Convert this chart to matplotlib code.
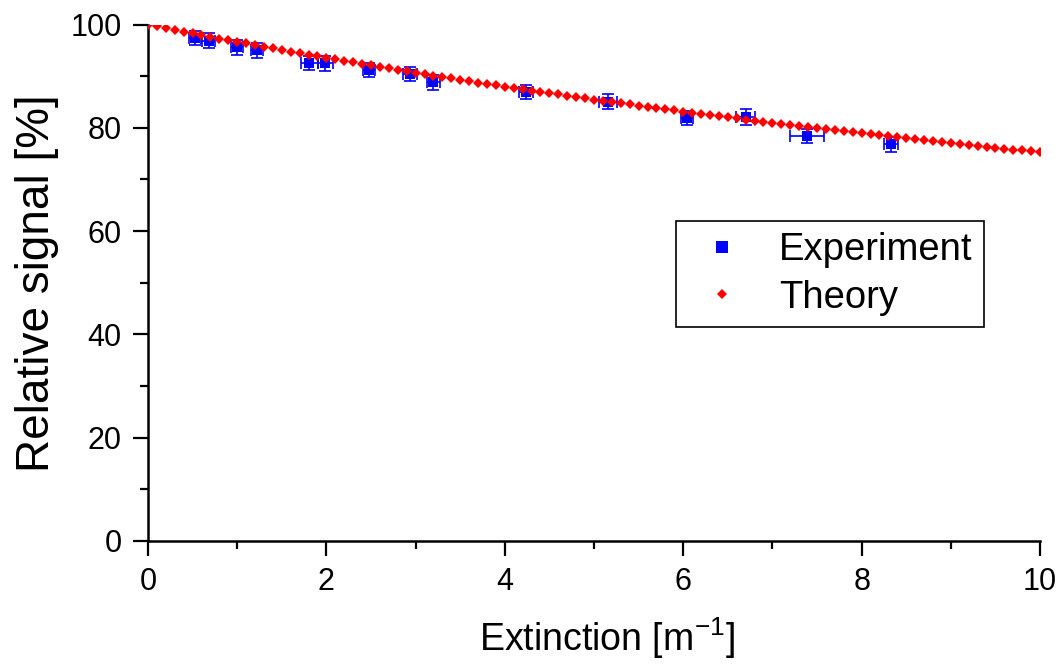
# Relative signal vs extinction: measured points with error bars and theory curve.

import matplotlib
matplotlib.use('Agg')
import matplotlib.pyplot as plt
import numpy as np

plt.rcParams['font.family'] = ['Liberation Sans', 'DejaVu Sans']
plt.rcParams['mathtext.default'] = 'regular'

# experiment
exp_x = [0.53, 0.68, 1.00, 1.22, 1.81, 1.99, 2.48, 2.94, 3.20,
         4.24, 5.16, 6.04, 6.70, 7.39, 8.33]
exp_y = [97.4, 96.9, 95.6, 95.0, 92.6, 92.5, 91.2, 90.4, 88.8,
         87.0, 85.1, 81.9, 82.1, 78.4, 76.8]
exp_xerr = [0.07, 0.07, 0.07, 0.07, 0.10, 0.08, 0.07, 0.08, 0.07,
            0.08, 0.10, 0.07, 0.11, 0.19, 0.08]
exp_yerr = [1.4, 1.4, 1.4, 1.4, 1.4, 1.4, 1.4, 1.4, 1.4,
            1.4, 1.4, 1.4, 1.5, 1.4, 1.4]

# theory points, every 0.1 m^-1
theory_x = [0.0, 0.1, 0.2, 0.3, 0.4, 0.5, 0.6, 0.7, 0.8, 0.9,
            1.0, 1.1, 1.2, 1.3, 1.4, 1.5, 1.6, 1.7, 1.8, 1.9,
            2.0, 2.1, 2.2, 2.3, 2.4, 2.5, 2.6, 2.7, 2.8, 2.9,
            3.0, 3.1, 3.2, 3.3, 3.4, 3.5, 3.6, 3.7, 3.8, 3.9,
            4.0, 4.1, 4.2, 4.3, 4.4, 4.5, 4.6, 4.7, 4.8, 4.9,
            5.0, 5.1, 5.2, 5.3, 5.4, 5.5, 5.6, 5.7, 5.8, 5.9,
            6.0, 6.1, 6.2, 6.3, 6.4, 6.5, 6.6, 6.7, 6.8, 6.9,
            7.0, 7.1, 7.2, 7.3, 7.4, 7.5, 7.6, 7.7, 7.8, 7.9,
            8.0, 8.1, 8.2, 8.3, 8.4, 8.5, 8.6, 8.7, 8.8, 8.9,
            9.0, 9.1, 9.2, 9.3, 9.4, 9.5, 9.6, 9.7, 9.8, 9.9,
            10.0]
theory_y = [100.00, 99.66, 99.32, 98.98, 98.64, 98.31, 97.98, 97.65, 97.32, 97.00,
            96.68, 96.36, 96.04, 95.72, 95.41, 95.10, 94.79, 94.49, 94.18, 93.88,
            93.58, 93.28, 92.98, 92.69, 92.40, 92.11, 91.82, 91.54, 91.25, 90.97,
            90.69, 90.41, 90.14, 89.86, 89.59, 89.32, 89.05, 88.79, 88.52, 88.26,
            88.00, 87.74, 87.48, 87.23, 86.98, 86.72, 86.47, 86.23, 85.98, 85.74,
            85.49, 85.25, 85.01, 84.77, 84.54, 84.30, 84.07, 83.84, 83.61, 83.38,
            83.16, 82.93, 82.71, 82.49, 82.27, 82.05, 81.83, 81.61, 81.40, 81.19,
            80.98, 80.77, 80.56, 80.35, 80.15, 79.94, 79.74, 79.54, 79.34, 79.14,
            78.95, 78.75, 78.56, 78.36, 78.17, 77.98, 77.79, 77.61, 77.42, 77.24,
            77.05, 76.87, 76.69, 76.51, 76.33, 76.16, 75.98, 75.81, 75.63, 75.46,
            75.29]

x_ticks = [0, 2, 4, 6, 8, 10]
y_ticks = [0, 20, 40, 60, 80, 100]

fig = plt.figure(figsize=(10.63, 6.65), dpi=100)
ax = fig.add_axes([0.1392, 0.1869, 0.8392, 0.776])

ax.errorbar(exp_x, exp_y, xerr=exp_xerr, yerr=exp_yerr, fmt='none',
            ecolor='#0000ff', elinewidth=1.2, capsize=4.5, capthick=1.2, zorder=2)
ax.plot(exp_x, exp_y, 's', color='#0000ff', ms=7.5, mew=0, label='Experiment', zorder=3)
ax.plot(theory_x, theory_y, 'D', color='#ff0000', ms=5, mew=0, label='Theory', zorder=4)

ax.set_xlim(0, 10)
ax.set_ylim(0, 100)
ax.set_xticks(x_ticks)
ax.set_yticks(y_ticks)
ax.set_xticks(np.arange(1, 10, 2), minor=True)
ax.set_yticks(np.arange(10, 100, 20), minor=True)

for s in ['top', 'right']:
    ax.spines[s].set_visible(False)
for s in ['left', 'bottom']:
    ax.spines[s].set_linewidth(1.8)

ax.tick_params(which='major', direction='out', length=11, width=1.6, labelsize=22, pad=8)
ax.tick_params(which='minor', direction='out', length=5.5, width=1.6)

ax.set_xlabel('Extinction [m$^{-1}$]', fontsize=27, labelpad=15)
ax.xaxis.set_label_coords(0.514, -0.145, transform=ax.transAxes)
ax.xaxis.label.set_verticalalignment('top')
ax.set_ylabel('Relative signal [%]', fontsize=33, labelpad=8)

leg = ax.legend(loc='upper left', bbox_to_anchor=(0.592, 0.62), borderaxespad=0,
                fontsize=27.5, frameon=True, fancybox=False, edgecolor='black',
                framealpha=1, markerscale=1.1, handlelength=1.8, handletextpad=0.6,
                borderpad=0.3, labelspacing=0.3)
leg.get_frame().set_linewidth(1.2)

fig.savefig('out.png', dpi=100)
